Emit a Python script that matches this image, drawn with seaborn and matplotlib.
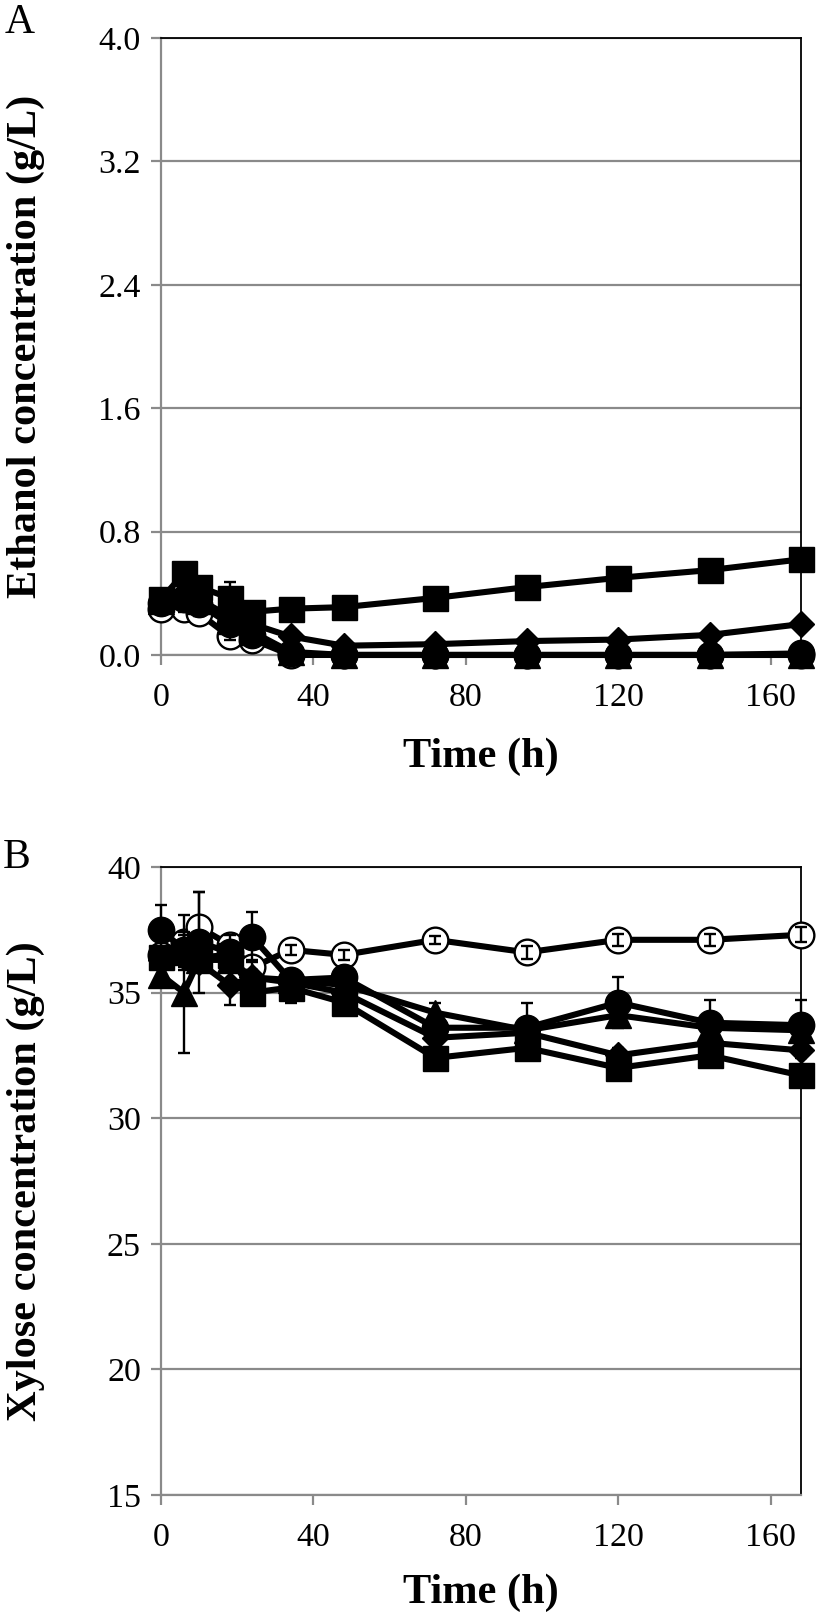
import numpy as np
import pandas as pd
import matplotlib
matplotlib.use("Agg")
import matplotlib.pyplot as plt
import seaborn as sns

# ---------------- data ----------------
time_h = [0, 6, 10, 18, 24, 34, 48, 72, 96, 120, 144, 168]

# Panel A: ethanol (g/L)
eth_square = [0.36, 0.53, 0.44, 0.37, 0.28, 0.30, 0.31, 0.37, 0.44, 0.50, 0.55, 0.62]
eth_square_sd = [0.01, 0.01, 0.01, 0.10, 0.01, 0.01, 0.01, 0.01, 0.01, 0.01, 0.01, 0.01]
eth_diamond = [0.35, 0.40, 0.36, 0.25, 0.20, 0.12, 0.06, 0.07, 0.09, 0.10, 0.13, 0.20]
eth_triangle = [0.35, 0.38, 0.35, 0.22, 0.15, 0.02, 0.0, 0.0, 0.0, 0.0, 0.0, 0.0]
eth_circle = [0.34, 0.36, 0.33, 0.20, 0.13, 0.01, 0.0, 0.0, 0.0, 0.0, 0.0, 0.01]
eth_open = [0.30, 0.30, 0.27, 0.12, 0.10, 0.0, 0.0, 0.0, 0.0, 0.0, 0.0, 0.0]
eth_open_sd = [0.02, 0.02, 0.02, 0.02, 0.02, 0.0, 0.0, 0.0, 0.0, 0.0, 0.0, 0.0]

# Panel B: xylose (g/L)
xyl_open = [36.5, 37.0, 37.6, 36.9, 36.0, 36.7, 36.5, 37.1, 36.6, 37.1, 37.1, 37.3]
xyl_open_sd = [0.3, 1.1, 1.4, 0.4, 0.3, 0.2, 0.2, 0.15, 0.25, 0.25, 0.25, 0.3]
xyl_circle = [37.5, 36.7, 37.0, 36.6, 37.2, 35.5, 35.6, 33.6, 33.6, 34.6, 33.8, 33.7]
xyl_circle_sd = [1.0, 0.6, 2.0, 0.3, 1.0, 0.3, 0.3, 0.4, 1.0, 1.0, 0.9, 1.0]
xyl_triangle = [35.7, 35.0, 36.3, 36.3, 35.6, 35.5, 35.3, 34.2, 33.5, 34.1, 33.6, 33.5]
xyl_triangle_sd = [0.3, 2.4, 0.5, 0.3, 0.3, 0.3, 0.3, 0.4, 0.3, 0.3, 0.3, 0.3]
xyl_diamond = [36.3, 36.4, 36.2, 35.3, 35.6, 35.4, 35.0, 33.2, 33.4, 32.5, 33.0, 32.7]
xyl_diamond_sd = [0.3, 0.4, 0.4, 0.8, 0.3, 0.3, 0.3, 0.3, 0.3, 0.3, 0.3, 0.3]
xyl_square = [36.4, 36.6, 36.4, 36.5, 35.0, 35.2, 34.6, 32.4, 32.8, 32.0, 32.5, 31.7]
xyl_square_sd = [0.3, 0.3, 0.3, 0.3, 0.3, 0.6, 0.3, 0.3, 0.3, 0.3, 0.3, 0.3]

x_ticks = [0, 40, 80, 120, 160]
a_ticks = [0.0, 0.8, 1.6, 2.4, 3.2, 4.0]
b_ticks = [15, 20, 25, 30, 35, 40]

# ---------------- style ----------------
sns.set_theme(style="white")
plt.rcParams["font.family"] = ["Liberation Serif", "DejaVu Serif"]
plt.rcParams["text.color"] = "black"
plt.rcParams["axes.labelcolor"] = "black"
plt.rcParams["xtick.color"] = "black"
plt.rcParams["ytick.color"] = "black"

GRAY = "#8a8a8a"
fig = plt.figure(figsize=(8.19, 16.22), dpi=100)
axA = fig.add_axes([0.1966, 0.5962, 0.7814, 0.3804])
axB = fig.add_axes([0.1966, 0.0783, 0.7814, 0.3872])

marker_specs = {
    "open": dict(marker="o", markersize=18.5, markerfacecolor="white",
                 markeredgecolor="black", markeredgewidth=1.7),
    "circle": dict(marker="o", markersize=19, markerfacecolor="black",
                   markeredgecolor="black", markeredgewidth=1),
    "triangle": dict(marker="^", markersize=19, markerfacecolor="black",
                     markeredgecolor="black", markeredgewidth=1),
    "diamond": dict(marker="D", markersize=13.5, markerfacecolor="black",
                    markeredgecolor="black", markeredgewidth=1),
    "square": dict(marker="s", markersize=18, markerfacecolor="black",
                   markeredgecolor="black", markeredgewidth=1),
}


def draw_series(ax, y, sd, key, z):
    sns.lineplot(x=time_h, y=y, ax=ax, color="black", linewidth=4.4,
                 clip_on=False, zorder=z, estimator=None, sort=False,
                 **marker_specs[key])
    if sd is not None:
        ax.errorbar(time_h, y, yerr=sd, fmt="none", ecolor="black",
                    elinewidth=1.7, capsize=4.6, capthick=1.7,
                    zorder=z + 0.5, clip_on=False)


def style_axes(ax, ylim, yticks, fmt, ylabel, label_y):
    ax.set_xlim(0, 168)
    ax.set_ylim(*ylim)
    ax.set_xticks(x_ticks)
    ax.set_yticks(yticks)
    ax.set_yticklabels([fmt.format(v) for v in yticks])
    ax.set_axisbelow(True)
    ax.yaxis.grid(True, color=GRAY, linewidth=1.6)
    ax.xaxis.grid(False)
    for side in ("left", "bottom"):
        ax.spines[side].set_color(GRAY)
        ax.spines[side].set_linewidth(1.6)
    for side in ("top", "right"):
        ax.spines[side].set_color("black")
        ax.spines[side].set_linewidth(1.3)
        ax.spines[side].set_zorder(2.5)
    ax.tick_params(axis="both", which="both", direction="out", length=7.5,
                   width=1.6, color=GRAY, labelsize=24.5, labelcolor="black",
                   bottom=True, left=True, top=False, right=False)
    ax.tick_params(axis="y", pad=7)
    ax.tick_params(axis="x", pad=12)
    ax.set_xlabel("Time (h)", fontsize=30.5, fontweight="bold", va="center",
                  color="black")
    ax.xaxis.set_label_coords(0.5, label_y)
    ax.set_ylabel(ylabel, fontsize=30.5, fontweight="bold", color="black")
    ax.yaxis.set_label_coords(-0.181, 0.5)


# Panel A
draw_series(axA, eth_open, eth_open_sd, "open", 3)
draw_series(axA, eth_circle, None, "circle", 4)
draw_series(axA, eth_triangle, None, "triangle", 5)
draw_series(axA, eth_diamond, None, "diamond", 6)
draw_series(axA, eth_square, eth_square_sd, "square", 7)
style_axes(axA, (0, 4.0), a_ticks, "{:.1f}", "Ethanol concentration (g/L)", -0.165)

# Panel B
draw_series(axB, xyl_open, xyl_open_sd, "open", 3)
draw_series(axB, xyl_circle, xyl_circle_sd, "circle", 4)
draw_series(axB, xyl_triangle, xyl_triangle_sd, "triangle", 5)
draw_series(axB, xyl_diamond, xyl_diamond_sd, "diamond", 6)
draw_series(axB, xyl_square, xyl_square_sd, "square", 7)
style_axes(axB, (15, 40), b_ticks, "{:d}", "Xylose concentration (g/L)", -0.156)

fig.text(0.024, 0.986, "A", fontsize=30, ha="center", va="center", color="black")
fig.text(0.020, 0.471, "B", fontsize=30, ha="center", va="center", color="black")

fig.savefig("out.png", dpi=100)
